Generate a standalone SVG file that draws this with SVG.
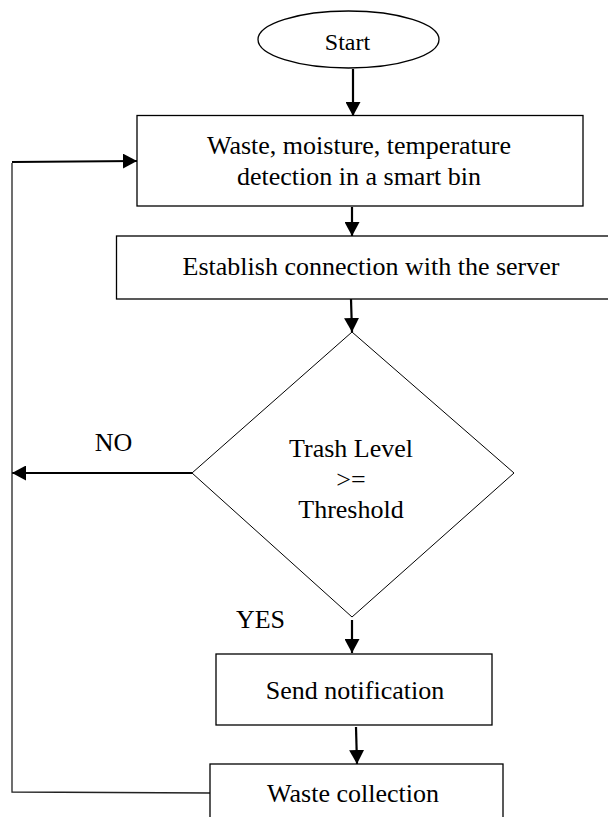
<svg xmlns="http://www.w3.org/2000/svg" width="608" height="817" viewBox="0 0 608 817">
<style>
.shape{fill:#fff;stroke:#000;stroke-width:1.3}
.dia{fill:#fff;stroke:#000;stroke-width:1}
.t{font-family:'Liberation Serif',Tinos,'Times New Roman','DejaVu Serif',serif;font-size:26px;fill:#000;text-anchor:middle}
.arr{fill:none;stroke:#000;stroke-width:2.2;marker-end:url(#ah)}
.thin{fill:none;stroke:#222;stroke-width:1.3}
</style>
<defs>
<marker id="ah" viewBox="0 0 14 15" refX="14" refY="7.5" markerWidth="14" markerHeight="15" markerUnits="userSpaceOnUse" orient="auto">
<path d="M0,0 L14,7.5 L0,15 z" fill="#000"/>
</marker>
</defs>
<rect width="608" height="817" fill="#fff"/>
<g id="connectors">
<path class="arr" d="M353,69 L353,116"/>
<path class="arr" d="M352,207 L352,236"/>
<path class="arr" d="M351,299 L352,332"/>
<path class="arr" d="M192,473 L12,473"/>
<path class="arr" d="M352,620 L352,653"/>
<path class="arr" d="M356,727 L357,764"/>
<path class="thin" d="M210,793 L12,792 L12,163"/>
<path class="arr" d="M12,162 L137,161"/>
</g>
<g id="start">
<ellipse class="shape" cx="348.5" cy="39.5" rx="90.5" ry="28.5"/>
<text class="t" x="347.5" y="50" font-family="Liberation Serif, serif" style="font-size:24px">Start</text>
</g>
<g id="detect">
<rect class="shape" x="137" y="115.5" width="446" height="90.5"/>
<text class="t" x="359" y="154" font-family="Liberation Serif, serif">Waste, moisture, temperature</text>
<text class="t" x="359" y="185" font-family="Liberation Serif, serif">detection in a smart bin</text>
</g>
<g id="connect">
<rect class="shape" x="116.5" y="236" width="500" height="63"/>
<text class="t" x="371" y="275" font-family="Liberation Serif, serif">Establish connection with the server</text>
</g>
<g id="decision">
<polygon class="dia" points="352,332 514,473 352,617 192,473"/>
<text class="t" x="351" y="457" font-family="Liberation Serif, serif">Trash Level</text>
<text class="t" x="351" y="488" font-family="Liberation Serif, serif">&gt;=</text>
<text class="t" x="351" y="518" font-family="Liberation Serif, serif">Threshold</text>
</g>
<g id="labels">
<text class="t" x="113.5" y="451" font-family="Liberation Serif, serif">NO</text>
<text class="t" x="260.5" y="628" font-family="Liberation Serif, serif">YES</text>
</g>
<g id="notify">
<rect class="shape" x="216" y="654" width="276" height="71"/>
<text class="t" x="355" y="699" font-family="Liberation Serif, serif">Send notification</text>
</g>
<g id="collect">
<rect class="shape" x="210" y="764" width="293" height="60"/>
<text class="t" x="353" y="802" font-family="Liberation Serif, serif">Waste collection</text>
</g>
</svg>
